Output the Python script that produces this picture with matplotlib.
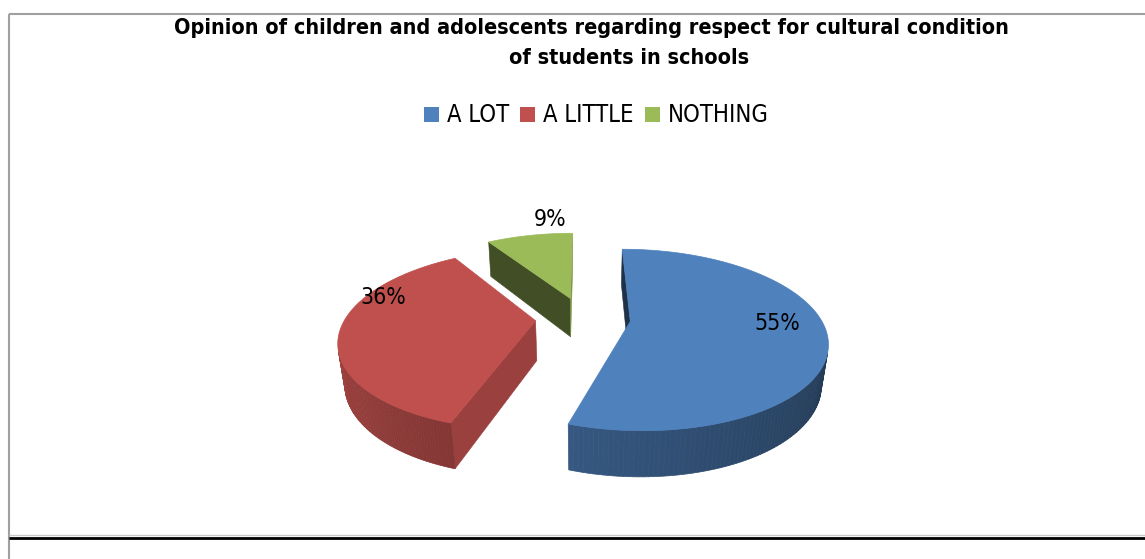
import numpy as np
import matplotlib
matplotlib.use("Agg")
import matplotlib.pyplot as plt
from matplotlib.patches import Polygon, Rectangle
from matplotlib.colors import to_rgb

# ---- data ----
categories = ["A LOT", "A LITTLE", "NOTHING"]
shares = [55, 36, 9]
slice_colors = ["#4f81bd", "#c0504d", "#9bbb59"]
title_line1 = "Opinion of children and adolescents regarding respect for cultural condition"
title_line2 = "of students in schools"

W, H = 1145, 559
fig = plt.figure(figsize=(W / 100, H / 100), dpi=100)
ax = fig.add_axes([0, 0, 1, 1])
ax.set_xlim(0, W)
ax.set_ylim(H, 0)
ax.axis("off")

FONT = dict(family=["DejaVu Sans"], fontstretch="condensed")

# ---- 3D pie projection ----
tilt = np.radians(29.5)
dist = 4.4          # camera distance (pie radius units)
scale = 185.0       # pixels per radius unit
height = 0.24       # pie thickness
explode = 0.25
sin_t, cos_t = np.sin(tilt), np.cos(tilt)
cam = np.array([0.0, -dist * cos_t, dist * sin_t])


def raw_project(X, Y, Z):
    u = X
    v = Y * sin_t + Z * cos_t
    w = Y * cos_t - Z * sin_t
    f = dist / (dist + w)
    return scale * u * f, -scale * v * f


ox0, oy0 = raw_project(0.0, 0.0, height)
center_px = (583.0, 318.0)


def project(X, Y, Z):
    sx, sy = raw_project(np.asarray(X, float), np.asarray(Y, float), np.asarray(Z, float))
    return np.column_stack([np.atleast_1d(sx - ox0 + center_px[0]),
                            np.atleast_1d(sy - oy0 + center_px[1])])


def shade(color, k):
    r, g, b = to_rgb(color)
    return (r * k, g * k, b * k)


def visible(normal, point):
    return np.dot(normal, cam - point) > 0


total = float(sum(shares))
bounds = np.concatenate([[0.0], np.cumsum(shares) / total * 360.0])
slices = []
for i in range(len(shares)):
    a0, a1 = np.radians(bounds[i]), np.radians(bounds[i + 1])
    mid = 0.5 * (a0 + a1)
    ox, oy = explode * np.sin(mid), explode * np.cos(mid)
    slices.append((i, a0, a1, mid, ox, oy))

# paint far slices first
order = sorted(slices, key=lambda s: -s[5])

for i, a0, a1, mid, ox, oy in order:
    col = slice_colors[i]
    th = np.linspace(a0, a1, 160)
    rx, ry = ox + np.sin(th), oy + np.cos(th)

    # radial cut faces
    for ang, sign in ((a0, -1.0), (a1, 1.0)):
        n = sign * np.array([np.cos(ang), -np.sin(ang), 0.0])
        p = np.array([ox + 0.5 * np.sin(ang), oy + 0.5 * np.cos(ang), height / 2])
        if visible(n, p):
            ex, ey = ox + np.sin(ang), oy + np.cos(ang)
            pts = project([ox, ex, ex, ox], [oy, ey, ey, oy],
                          [0, 0, height, height])
            k = 0.6 + 0.21 * n[0]
            ax.add_patch(Polygon(pts, closed=True, facecolor=shade(col, k),
                                 edgecolor=shade(col, k), lw=0.4, zorder=2))

    # curved outer wall, shaded strip by strip
    for j in range(len(th) - 1):
        tm = 0.5 * (th[j] + th[j + 1])
        n = np.array([np.sin(tm), np.cos(tm), 0.0])
        p = np.array([ox + np.sin(tm), oy + np.cos(tm), height / 2])
        if not visible(n, p):
            continue
        deg = np.degrees(tm) % 360
        k = 0.40 + 0.47 * np.clip((deg - 90.0) / 180.0, 0, 1)
        pts = project([rx[j], rx[j + 1], rx[j + 1], rx[j]],
                      [ry[j], ry[j + 1], ry[j + 1], ry[j]],
                      [0, 0, height, height])
        ax.add_patch(Polygon(pts, closed=True, facecolor=shade(col, k),
                             edgecolor=shade(col, k), lw=0.5, zorder=3))

    # top face
    tx = np.concatenate([[ox], rx])
    ty = np.concatenate([[oy], ry])
    pts = project(tx, ty, np.full_like(tx, height))
    ax.add_patch(Polygon(pts, closed=True, facecolor=col, edgecolor=col,
                         lw=0.5, zorder=4))

# ---- data labels ----
label_radius = [0.75, 0.82, 1.0]
label_nudge = [(0, -8), (8, -32), (20, -16)]
for i, a0, a1, mid, ox, oy in slices:
    r = label_radius[i]
    pt = project(ox + r * np.sin(mid), oy + r * np.cos(mid), height)[0]
    dx, dy = label_nudge[i]
    ax.text(pt[0] + dx, pt[1] + dy, f"{shares[i]}%", ha="center", va="center",
            fontsize=16.5, color="black", zorder=6, **FONT)

# ---- title ----
ax.text(591, 28.5, title_line1, ha="center", va="center", fontsize=15.5,
        fontweight="bold", **FONT)
ax.text(629, 57.5, title_line2, ha="center", va="center", fontsize=15.5,
        fontweight="bold", **FONT)

# ---- legend ----
x = 424
for name, col in zip(categories, slice_colors):
    ax.add_patch(Rectangle((x, 107), 15, 15, facecolor=col, edgecolor="none"))
    t = ax.text(x + 23, 115, name, ha="left", va="center", fontsize=17.0,
                **FONT)
    fig.canvas.draw()
    bb = t.get_window_extent()
    x = bb.x1 + 11

# ---- frame ----
ax.plot([9, 9], [14, H], color="#a0a0a0", lw=1.5, solid_capstyle="butt")
ax.plot([9, W], [14, 14], color="#a0a0a0", lw=1.5, solid_capstyle="butt")
ax.plot([9, W], [535, 535], color="#c8c8c8", lw=1.0, solid_capstyle="butt")
ax.plot([9, W], [537.5, 537.5], color="black", lw=2.0, solid_capstyle="butt")

fig.savefig("out.png", dpi=100)
